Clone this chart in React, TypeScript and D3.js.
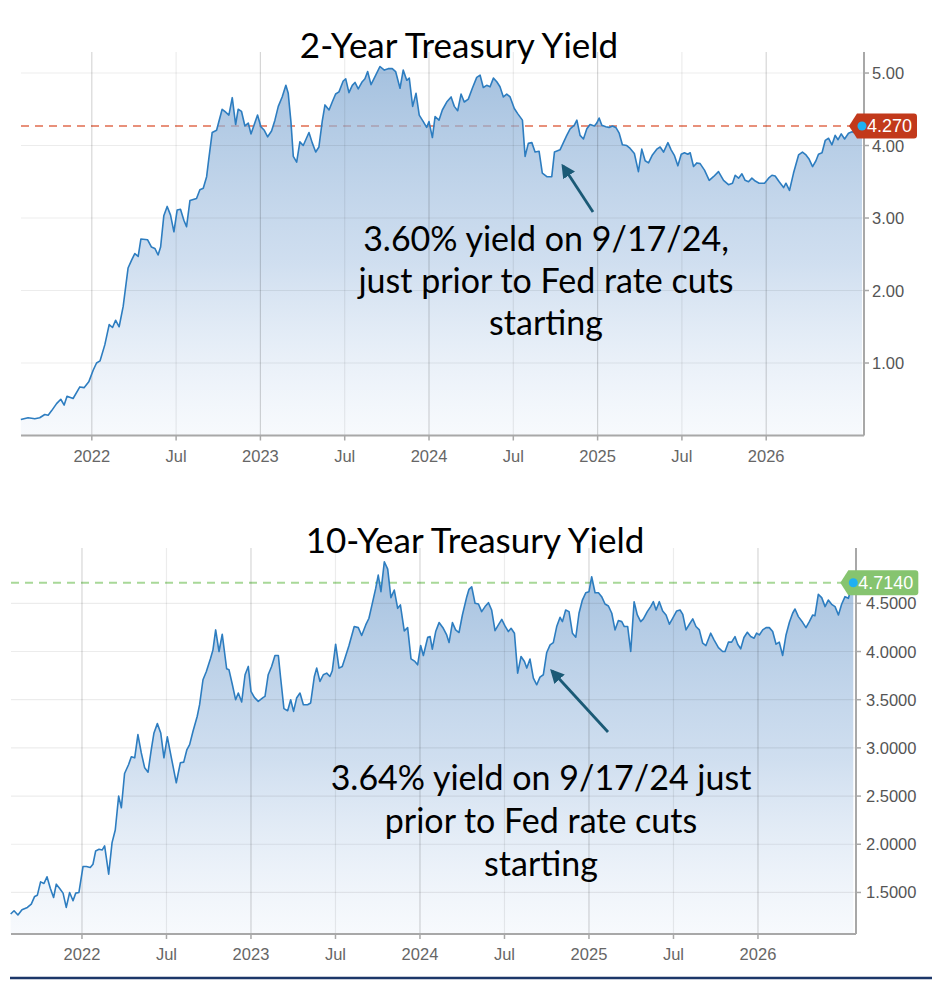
import React, { useEffect, useRef } from 'react';
import * as d3 from 'd3';

// x axis ticks (decimal years) and their labels
const xTickYears = [2022, 2022.5, 2023, 2023.5, 2024, 2024.5, 2025, 2025.5, 2026];
const xTickLabels = ['2022', 'Jul', '2023', 'Jul', '2024', 'Jul', '2025', 'Jul', '2026'];

const twoYearTicks = [1, 2, 3, 4, 5];
const tenYearTicks = [1.5, 2, 2.5, 3, 3.5, 4, 4.5];

// 2-Year yield (decimal year, percent)
const twoYearDates = [
  2021.579, 2021.622, 2021.662, 2021.691, 2021.721, 2021.741, 2021.761, 2021.791, 2021.816, 2021.836,
  2021.853, 2021.889, 2021.929, 2021.954, 2021.982, 2022.008, 2022.028, 2022.049, 2022.077, 2022.103,
  2022.123, 2022.141, 2022.162, 2022.186, 2022.215, 2022.236, 2022.255, 2022.275, 2022.291, 2022.331,
  2022.354, 2022.374, 2022.393, 2022.408, 2022.427, 2022.447, 2022.467, 2022.487, 2022.506, 2022.526,
  2022.546, 2022.562, 2022.582, 2022.621, 2022.641, 2022.661, 2022.681, 2022.694, 2022.714, 2022.740,
  2022.773, 2022.789, 2022.813, 2022.833, 2022.853, 2022.868, 2022.888, 2022.908, 2022.928, 2022.944,
  2022.983, 2023.003, 2023.023, 2023.043, 2023.066, 2023.086, 2023.106, 2023.129, 2023.151, 2023.165,
  2023.181, 2023.195, 2023.215, 2023.234, 2023.254, 2023.288, 2023.307, 2023.328, 2023.347, 2023.367,
  2023.383, 2023.407, 2023.426, 2023.446, 2023.466, 2023.491, 2023.506, 2023.525, 2023.545, 2023.561,
  2023.580, 2023.604, 2023.620, 2023.636, 2023.656, 2023.684, 2023.709, 2023.735, 2023.758, 2023.782,
  2023.802, 2023.828, 2023.847, 2023.868, 2023.883, 2023.903, 2023.923, 2023.942, 2023.966, 2023.986,
  2024.000, 2024.020, 2024.036, 2024.059, 2024.079, 2024.105, 2024.131, 2024.150, 2024.170, 2024.190,
  2024.209, 2024.233, 2024.257, 2024.283, 2024.303, 2024.322, 2024.342, 2024.362, 2024.382, 2024.402,
  2024.421, 2024.441, 2024.461, 2024.481, 2024.506, 2024.526, 2024.554, 2024.570, 2024.589, 2024.610,
  2024.629, 2024.653, 2024.672, 2024.699, 2024.728, 2024.744, 2024.777, 2024.797, 2024.817, 2024.837,
  2024.862, 2024.877, 2024.896, 2024.916, 2024.936, 2024.955, 2024.981, 2024.995, 2025.009, 2025.025,
  2025.049, 2025.068, 2025.088, 2025.108, 2025.128, 2025.147, 2025.173, 2025.193, 2025.218, 2025.242,
  2025.262, 2025.282, 2025.302, 2025.325, 2025.351, 2025.371, 2025.391, 2025.417, 2025.436, 2025.456,
  2025.476, 2025.496, 2025.515, 2025.535, 2025.549, 2025.569, 2025.589, 2025.608, 2025.634, 2025.662,
  2025.687, 2025.717, 2025.747, 2025.776, 2025.800, 2025.816, 2025.836, 2025.856, 2025.875, 2025.895,
  2025.915, 2025.935, 2025.958, 2025.990, 2026.014, 2026.034, 2026.053, 2026.077, 2026.103, 2026.117,
  2026.138, 2026.162, 2026.192, 2026.215, 2026.236, 2026.255, 2026.275, 2026.295, 2026.310, 2026.331,
  2026.350, 2026.370, 2026.390, 2026.409, 2026.426, 2026.445, 2026.465, 2026.488, 2026.509, 2026.532,
  2026.568,
];
const twoYearValues = [
  0.22, 0.245, 0.23, 0.245, 0.29, 0.28, 0.34, 0.44, 0.50, 0.42,
  0.54, 0.51, 0.67, 0.66, 0.74, 0.90, 1.00, 1.03, 1.25, 1.53,
  1.49, 1.59, 1.50, 1.78, 2.31, 2.42, 2.51, 2.47, 2.71, 2.70,
  2.60, 2.58, 2.49, 2.60, 3.03, 3.16, 3.04, 2.81, 3.11, 3.12,
  2.97, 2.88, 3.24, 3.27, 3.39, 3.41, 3.57, 3.82, 4.18, 4.21,
  4.50, 4.47, 4.42, 4.66, 4.29, 4.50, 4.47, 4.27, 4.31, 4.16,
  4.42, 4.26, 4.21, 4.12, 4.20, 4.35, 4.54, 4.67, 4.83, 4.72,
  4.33, 3.85, 3.77, 4.05, 4.00, 4.18, 4.04, 3.91, 3.98, 4.34,
  4.56, 4.49, 4.60, 4.71, 4.74, 4.89, 4.92, 4.73, 4.83, 4.87,
  4.78, 4.88, 4.92, 5.02, 4.84, 4.97, 5.09, 5.04, 5.06, 5.06,
  5.02, 4.79, 5.04, 4.90, 4.93, 4.54, 4.72, 4.42, 4.33, 4.25,
  4.33, 4.11, 4.40, 4.35, 4.49, 4.60, 4.67, 4.54, 4.48, 4.71,
  4.60, 4.64, 4.79, 4.94, 4.97, 4.80, 4.83, 4.81, 4.93, 4.88,
  4.81, 4.67, 4.71, 4.67, 4.51, 4.44, 4.35, 3.85, 4.03, 4.04,
  3.91, 3.92, 3.62, 3.57, 3.57, 3.91, 3.94, 4.04, 4.14, 4.23,
  4.28, 4.35, 4.14, 4.09, 4.23, 4.29, 4.27, 4.31, 4.38, 4.28,
  4.26, 4.25, 4.27, 4.25, 4.17, 4.01, 4.00, 3.96, 3.89, 3.64,
  3.95, 3.79, 3.76, 3.87, 3.95, 3.98, 3.91, 4.04, 3.94, 3.86,
  3.72, 3.88, 3.90, 3.88, 3.90, 3.71, 3.76, 3.75, 3.66, 3.52,
  3.57, 3.64, 3.52, 3.46, 3.48, 3.59, 3.55, 3.61, 3.52, 3.50,
  3.55, 3.51, 3.48, 3.48, 3.55, 3.59, 3.58, 3.50, 3.42, 3.48,
  3.38, 3.62, 3.87, 3.91, 3.87, 3.81, 3.71, 3.79, 3.88, 3.90,
  4.07, 4.10, 4.01, 4.14, 4.08, 4.16, 4.09, 4.17, 4.19, 4.17,
  4.27,
];

// 10-Year yield (decimal year, percent)
const tenYearDates = [
  2021.578, 2021.598, 2021.621, 2021.645, 2021.677, 2021.700, 2021.720, 2021.736, 2021.755, 2021.775,
  2021.793, 2021.813, 2021.832, 2021.848, 2021.868, 2021.888, 2021.907, 2021.927, 2021.947, 2021.963,
  2021.982, 2022.006, 2022.026, 2022.049, 2022.065, 2022.081, 2022.101, 2022.120, 2022.134, 2022.158,
  2022.178, 2022.197, 2022.217, 2022.233, 2022.252, 2022.276, 2022.292, 2022.312, 2022.331, 2022.351,
  2022.371, 2022.391, 2022.410, 2022.426, 2022.446, 2022.466, 2022.485, 2022.505, 2022.529, 2022.558,
  2022.582, 2022.602, 2022.621, 2022.637, 2022.657, 2022.682, 2022.696, 2022.716, 2022.736, 2022.761,
  2022.775, 2022.791, 2022.811, 2022.830, 2022.856, 2022.870, 2022.890, 2022.909, 2022.925, 2022.945,
  2022.965, 2022.984, 2023.000, 2023.020, 2023.043, 2023.073, 2023.083, 2023.102, 2023.122, 2023.142,
  2023.162, 2023.176, 2023.195, 2023.217, 2023.235, 2023.252, 2023.270, 2023.290, 2023.310, 2023.335,
  2023.353, 2023.375, 2023.389, 2023.408, 2023.428, 2023.448, 2023.467, 2023.481, 2023.501, 2023.521,
  2023.540, 2023.556, 2023.580, 2023.611, 2023.635, 2023.655, 2023.679, 2023.698, 2023.718, 2023.738,
  2023.753, 2023.769, 2023.789, 2023.809, 2023.828, 2023.848, 2023.868, 2023.884, 2023.907, 2023.927,
  2023.947, 2023.970, 2023.986, 2024.004, 2024.020, 2024.046, 2024.060, 2024.073, 2024.093, 2024.113,
  2024.138, 2024.158, 2024.172, 2024.192, 2024.211, 2024.231, 2024.251, 2024.277, 2024.290, 2024.306,
  2024.326, 2024.346, 2024.365, 2024.385, 2024.405, 2024.424, 2024.444, 2024.464, 2024.484, 2024.503,
  2024.523, 2024.539, 2024.559, 2024.578, 2024.598, 2024.618, 2024.632, 2024.651, 2024.671, 2024.691,
  2024.710, 2024.730, 2024.750, 2024.770, 2024.789, 2024.809, 2024.829, 2024.843, 2024.862, 2024.882,
  2024.902, 2024.922, 2024.941, 2024.961, 2024.981, 2025.000, 2025.016, 2025.036, 2025.056, 2025.075,
  2025.095, 2025.115, 2025.135, 2025.154, 2025.174, 2025.194, 2025.209, 2025.229, 2025.247, 2025.267,
  2025.286, 2025.306, 2025.322, 2025.345, 2025.365, 2025.381, 2025.397, 2025.416, 2025.436, 2025.456,
  2025.476, 2025.495, 2025.519, 2025.539, 2025.555, 2025.574, 2025.594, 2025.614, 2025.633, 2025.653,
  2025.673, 2025.692, 2025.720, 2025.740, 2025.766, 2025.791, 2025.805, 2025.825, 2025.844, 2025.864,
  2025.880, 2025.898, 2025.917, 2025.937, 2025.957, 2025.977, 2025.992, 2026.008, 2026.028, 2026.048,
  2026.067, 2026.087, 2026.107, 2026.126, 2026.146, 2026.166, 2026.186, 2026.205, 2026.219, 2026.239,
  2026.264, 2026.284, 2026.304, 2026.324, 2026.337, 2026.357, 2026.377, 2026.397, 2026.416, 2026.436,
  2026.456, 2026.476, 2026.495, 2026.515, 2026.535, 2026.549, 2026.564,
];
const tenYearValues = [
  1.276, 1.310, 1.266, 1.321, 1.345, 1.379, 1.459, 1.472, 1.610, 1.593,
  1.662, 1.541, 1.448, 1.586, 1.541, 1.493, 1.345, 1.500, 1.414, 1.493,
  1.500, 1.769, 1.769, 1.759, 1.793, 1.931, 1.948, 1.941, 1.983, 1.690,
  2.017, 2.148, 2.500, 2.379, 2.734, 2.828, 2.907, 2.897, 3.138, 2.948,
  2.793, 2.748, 2.983, 3.155, 3.252, 3.155, 2.897, 3.114, 2.897, 2.638,
  2.845, 2.852, 2.983, 3.034, 3.172, 3.328, 3.448, 3.707, 3.793, 3.931,
  4.017, 4.224, 4.000, 4.179, 3.821, 3.810, 3.655, 3.500, 3.569, 3.476,
  3.759, 3.845, 3.586, 3.524, 3.483, 3.524, 3.534, 3.759, 3.845, 3.959,
  3.959, 3.717, 3.407, 3.386, 3.500, 3.379, 3.517, 3.569, 3.448, 3.448,
  3.466, 3.741, 3.828, 3.690, 3.759, 3.776, 3.741, 3.800, 4.076, 3.828,
  3.845, 3.931, 4.062, 4.259, 4.248, 4.166, 4.276, 4.345, 4.500, 4.655,
  4.793, 4.621, 4.931, 4.855, 4.559, 4.638, 4.448, 4.483, 4.214, 4.248,
  3.924, 3.897, 3.862, 4.062, 3.959, 4.148, 4.155, 4.024, 4.207, 4.300,
  4.241, 4.172, 4.093, 4.300, 4.224, 4.197, 4.379, 4.569, 4.645, 4.672,
  4.500, 4.493, 4.414, 4.466, 4.507, 4.431, 4.217, 4.276, 4.334, 4.266,
  4.207, 4.241, 4.190, 3.776, 3.948, 3.897, 3.828, 3.921, 3.724, 3.655,
  3.734, 3.759, 3.990, 4.069, 4.093, 4.259, 4.355, 4.310, 4.431, 4.414,
  4.190, 4.148, 4.397, 4.534, 4.610, 4.621, 4.776, 4.610, 4.610, 4.569,
  4.493, 4.472, 4.397, 4.224, 4.321, 4.310, 4.259, 4.259, 4.000, 4.517,
  4.379, 4.310, 4.338, 4.414, 4.466, 4.517, 4.431, 4.517, 4.421, 4.379,
  4.283, 4.345, 4.421, 4.431, 4.386, 4.224, 4.283, 4.338, 4.259, 4.224,
  4.086, 4.062, 4.190, 4.121, 4.041, 4.000, 4.000, 4.097, 4.097, 4.155,
  4.076, 4.028, 4.145, 4.200, 4.155, 4.138, 4.190, 4.172, 4.224, 4.248,
  4.248, 4.207, 4.076, 4.097, 3.959, 4.172, 4.303, 4.397, 4.441, 4.362,
  4.303, 4.248, 4.310, 4.379, 4.372, 4.593, 4.559, 4.466, 4.534, 4.490,
  4.466, 4.379, 4.490, 4.569, 4.552, 4.638, 4.714,
];

const twoYearNote = ['3.60% yield on 9/17/24,', 'just prior to Fed rate cuts', 'starting'];
const tenYearNote = ['3.64% yield on 9/17/24 just', 'prior to Fed rate cuts', 'starting'];

const panels = [
  {
    id: 'two', title: '2-Year Treasury Yield', titleX: 459, titleY: 58,
    dates: twoYearDates, values: twoYearValues,
    left: 21, right: 864, top: 52, bottom: 435.5, yMin: 0, yMax: 5.29,
    ticks: twoYearTicks, fmt: d3.format('.2f'), labelX: 872, lastLabel: '4.270',
    dash: '#e8907a', badge: '#c2391b', badgeW: 60,
    note: twoYearNote, noteX: 546, noteY: 251, noteGap: 42,
    arrow: [593, 212, 563, 166], xLabelY: 462,
  },
  {
    id: 'ten', title: '10-Year Treasury Yield', titleX: 475, titleY: 553,
    dates: tenYearDates, values: tenYearValues,
    left: 11, right: 856, top: 548, bottom: 934, yMin: 1.069, yMax: 5.074,
    ticks: tenYearTicks, fmt: d3.format('.4f'), labelX: 866, lastLabel: '4.7140',
    dash: '#a8d898', badge: '#86c46f', badgeW: 70,
    note: tenYearNote, noteX: 541, noteY: 790, noteGap: 43,
    arrow: [608, 732, 552, 671], xLabelY: 960,
  },
];

const App = () => {
  const svgRef = useRef(null);

  useEffect(() => {
    const svg = d3.select(svgRef.current);
    svg.selectAll('*').remove();
    const defs = svg.append('defs');

    defs.append('marker')
      .attr('id', 'arrowHead')
      .attr('viewBox', '0 0 10 10')
      .attr('refX', 8).attr('refY', 5)
      .attr('markerWidth', 5).attr('markerHeight', 5)
      .attr('orient', 'auto')
      .append('path')
      .attr('d', 'M0,0 L10,5 L0,10 Z')
      .attr('fill', '#1b5a76');

    panels.forEach(p => {
      const x = d3.scaleLinear().domain([2021.58, 2026.58]).range([p.left, p.right]);
      const y = d3.scaleLinear().domain([p.yMin, p.yMax]).range([p.bottom, p.top]);
      const data = p.dates.map((d, i) => ({ d, v: p.values[i] }));
      const last = data[data.length - 1];

      const grad = defs.append('linearGradient')
        .attr('id', 'fill-' + p.id)
        .attr('gradientUnits', 'userSpaceOnUse')
        .attr('x1', 0).attr('x2', 0)
        .attr('y1', p.top).attr('y2', p.bottom);
      grad.append('stop').attr('offset', 0).attr('stop-color', '#86acd4').attr('stop-opacity', 0.78);
      grad.append('stop').attr('offset', 0.55).attr('stop-color', '#a9c4e3').attr('stop-opacity', 0.55);
      grad.append('stop').attr('offset', 1).attr('stop-color', '#e9f0f9').attr('stop-opacity', 0.35);

      const g = svg.append('g');

      // dashed last-value line (sits under the fill)
      g.append('line')
        .attr('x1', p.left).attr('x2', x(last.d) - 8)
        .attr('y1', y(last.v)).attr('y2', y(last.v))
        .attr('stroke', p.dash).attr('stroke-width', 2)
        .attr('stroke-dasharray', '8,6');

      // area
      g.append('path')
        .datum(data)
        .attr('fill', `url(#fill-${p.id})`)
        .attr('d', d3.area().x(d => x(d.d)).y0(p.bottom).y1(d => y(d.v)));

      // grid
      g.selectAll('.hg').data(p.ticks).enter().append('line')
        .attr('x1', p.left).attr('x2', p.right)
        .attr('y1', d => y(d)).attr('y2', d => y(d))
        .attr('stroke', 'rgba(0,0,0,0.075)').attr('stroke-width', 1.2);
      g.selectAll('.vg').data(xTickYears).enter().append('line')
        .attr('x1', d => x(d)).attr('x2', d => x(d))
        .attr('y1', p.top).attr('y2', p.bottom)
        .attr('stroke', (d, i) => (i % 2 === 0 ? 'rgba(0,0,0,0.16)' : 'rgba(0,0,0,0.075)'))
        .attr('stroke-width', 1.2);

      // line
      g.append('path')
        .datum(data)
        .attr('fill', 'none')
        .attr('stroke', '#2d7dc0')
        .attr('stroke-width', 1.6)
        .attr('stroke-linejoin', 'round')
        .attr('d', d3.line().x(d => x(d.d)).y(d => y(d.v)));

      // x axis
      g.append('line')
        .attr('x1', p.left).attr('x2', p.right)
        .attr('y1', p.bottom).attr('y2', p.bottom)
        .attr('stroke', '#a8a8a8').attr('stroke-width', 2);
      g.selectAll('.xt').data(xTickYears).enter().append('line')
        .attr('x1', d => x(d)).attr('x2', d => x(d))
        .attr('y1', p.bottom).attr('y2', p.bottom + 5)
        .attr('stroke', '#a8a8a8').attr('stroke-width', 1.5);
      g.selectAll('.xl').data(xTickYears).enter().append('text')
        .attr('x', d => x(d)).attr('y', p.xLabelY)
        .attr('text-anchor', 'middle')
        .attr('font-family', 'Liberation Sans, Arial, sans-serif')
        .attr('font-size', 16.5).attr('fill', '#666')
        .text((d, i) => xTickLabels[i]);

      // y axis on the right
      g.append('line')
        .attr('x1', p.right).attr('x2', p.right)
        .attr('y1', p.top).attr('y2', p.bottom)
        .attr('stroke', '#a8a8a8').attr('stroke-width', 2);
      g.selectAll('.yt').data(p.ticks).enter().append('line')
        .attr('x1', p.right).attr('x2', p.right + 5)
        .attr('y1', d => y(d)).attr('y2', d => y(d))
        .attr('stroke', '#a8a8a8').attr('stroke-width', 1.5);
      g.selectAll('.yl').data(p.ticks).enter().append('text')
        .attr('x', p.labelX).attr('y', d => y(d) + 6)
        .attr('font-family', 'Liberation Sans, Arial, sans-serif')
        .attr('font-size', 16.5).attr('fill', '#555')
        .text(d => p.fmt(d));

      // last value badge
      const cx = x(last.d);
      const cy = y(last.v);
      const bx = cx - 5, h = 25, r = 3, w = p.badgeW;
      g.append('path')
        .attr('d', `M${cx - 13},${cy} L${bx},${cy - h / 2} H${bx + w - r} Q${bx + w},${cy - h / 2} ${bx + w},${cy - h / 2 + r} V${cy + h / 2 - r} Q${bx + w},${cy + h / 2} ${bx + w - r},${cy + h / 2} H${bx} Z`)
        .attr('fill', p.badge);
      g.append('text')
        .attr('x', cx + 5).attr('y', cy + 6.5)
        .attr('font-family', 'Liberation Sans, Arial, sans-serif')
        .attr('font-size', 18).attr('fill', '#fff')
        .text(p.lastLabel);
      g.append('circle')
        .attr('cx', cx).attr('cy', cy).attr('r', 4.5)
        .attr('fill', '#1fb0f2');

      // title
      g.append('text')
        .attr('x', p.titleX).attr('y', p.titleY)
        .attr('text-anchor', 'middle')
        .attr('font-family', 'Lato, Noto Sans, sans-serif')
        .attr('font-size', 35).attr('fill', '#000')
        .text(p.title);

      // annotation
      g.selectAll('.note').data(p.note).enter().append('text')
        .attr('x', p.noteX).attr('y', (d, i) => p.noteY + i * p.noteGap)
        .attr('text-anchor', 'middle')
        .attr('font-family', 'Lato, Noto Sans, sans-serif')
        .attr('font-size', 34).attr('fill', '#000')
        .text(d => d);

      const [ax1, ay1, ax2, ay2] = p.arrow;
      g.append('line')
        .attr('x1', ax1).attr('y1', ay1).attr('x2', ax2).attr('y2', ay2)
        .attr('stroke', '#1b5a76').attr('stroke-width', 2.8)
        .attr('marker-end', 'url(#arrowHead)');
    });

    // bottom rule
    svg.append('line')
      .attr('x1', 10).attr('x2', 932)
      .attr('y1', 978).attr('y2', 978)
      .attr('stroke', '#1c3769').attr('stroke-width', 2.5);
  }, []);

  return (
    <svg
      ref={svgRef}
      width={952}
      height={1000}
      style={{ position: 'absolute', left: 0, top: 0, background: '#fff' }}
    />
  );
};

export default App;
